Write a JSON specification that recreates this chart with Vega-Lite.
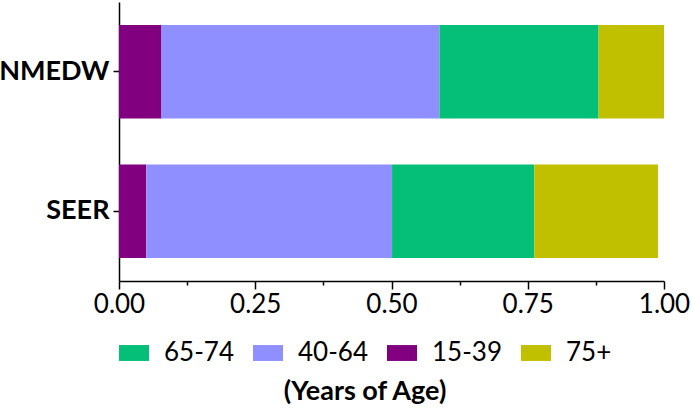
{
  "$schema": "https://vega.github.io/schema/vega-lite/v6.json",
  "width": 545,
  "height": 279,
  "autosize": {"type": "none"},
  "padding": {"left": 119, "top": 2, "right": 29, "bottom": 127},
  "data": {
    "values": [
      {"source": "NMEDW", "age": "15-39", "rank": 1, "share": 0.078},
      {"source": "NMEDW", "age": "40-64", "rank": 2, "share": 0.510},
      {"source": "NMEDW", "age": "65-74", "rank": 3, "share": 0.292},
      {"source": "NMEDW", "age": "75+", "rank": 4, "share": 0.120},
      {"source": "SEER", "age": "15-39", "rank": 1, "share": 0.050},
      {"source": "SEER", "age": "40-64", "rank": 2, "share": 0.451},
      {"source": "SEER", "age": "65-74", "rank": 3, "share": 0.261},
      {"source": "SEER", "age": "75+", "rank": 4, "share": 0.227}
    ]
  },
  "mark": {"type": "bar"},
  "encoding": {
    "y": {
      "field": "source",
      "type": "nominal",
      "sort": ["NMEDW", "SEER"],
      "scale": {"paddingInner": 0.33, "paddingOuter": 0.165},
      "axis": {
        "title": null,
        "labelFont": "Lato",
        "labelFontSize": 27,
        "labelFontWeight": "bold",
        "tickSize": 6,
        "labelPadding": 4
      }
    },
    "x": {
      "field": "share",
      "type": "quantitative",
      "stack": "zero",
      "scale": {"domain": [0, 1], "nice": false},
      "axis": {
        "title": null,
        "grid": false,
        "values": [0, 0.125, 0.25, 0.375, 0.5, 0.625, 0.75, 0.875, 1],
        "labelExpr": "abs(datum.value * 4 - round(datum.value * 4)) < 0.01 ? format(datum.value, '.2f') : ''",
        "labelFlush": false,
        "labelFont": "Lato",
        "labelFontSize": 26,
        "labelPadding": 2,
        "tickSize": {
          "condition": {"test": "abs(datum.value * 4 - round(datum.value * 4)) < 0.01", "value": 8},
          "value": 4
        }
      }
    },
    "color": {
      "field": "age",
      "type": "nominal",
      "scale": {
        "domain": ["65-74", "40-64", "15-39", "75+"],
        "range": ["#05BF78", "#8F8FFF", "#800080", "#C0C000"]
      },
      "legend": {
        "orient": "bottom",
        "direction": "horizontal",
        "columns": 4,
        "title": "(Years of Age)",
        "titleOrient": "bottom",
        "titleAnchor": "middle",
        "titleFont": "Lato",
        "titleFontSize": 27,
        "titleFontWeight": "bold",
        "titleColor": "black",
        "titlePadding": 13,
        "labelFont": "Lato",
        "labelFontSize": 26,
        "labelColor": "black",
        "labelOffset": 15,
        "columnPadding": 19,
        "symbolType": "M-1,-0.53H1V0.53H-1Z",
        "symbolSize": 900,
        "symbolStrokeWidth": 0,
        "symbolOpacity": 1,
        "offset": 21
      }
    },
    "order": {"field": "rank", "type": "quantitative"}
  },
  "config": {
    "view": {"stroke": null},
    "axis": {
      "domainColor": "black",
      "tickColor": "black",
      "labelColor": "black",
      "domainWidth": 1.5,
      "tickWidth": 1.5
    }
  }
}
